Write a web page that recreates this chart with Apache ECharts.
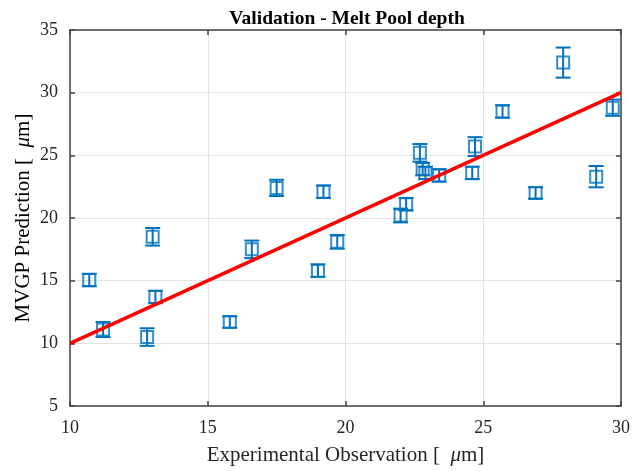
<!DOCTYPE html>
<html>
<head>
<meta charset="utf-8">
<script src="https://cdn.jsdelivr.net/npm/echarts@6/dist/echarts.min.js"></script>
<style>
  html, body { margin: 0; padding: 0; background: #fff; }
  #chart { width: 633px; height: 471px; }
</style>
</head>
<body>
<div id="chart"></div>
<script>
// Measured melt pool depth vs. MVGP predicted depth (µm)
const experimental = [10.7, 11.2, 12.8, 13.0, 13.1, 15.8, 16.6, 17.5, 19.0, 19.2, 19.7, 22.0, 22.2, 22.7, 22.8, 22.9, 23.4, 24.6, 24.7, 25.7, 26.9, 27.9, 29.1, 29.7];
const predicted    = [15.05, 11.1, 10.5, 18.5, 13.7, 11.7, 17.5, 22.4, 15.8, 22.1, 18.1, 20.2, 21.1, 25.2, 23.9, 23.6, 23.4, 23.6, 25.7, 28.5, 22.0, 32.4, 23.3, 28.8];
const predError    = [0.5, 0.6, 0.7, 0.7, 0.5, 0.45, 0.7, 0.65, 0.5, 0.5, 0.55, 0.55, 0.5, 0.7, 0.5, 0.5, 0.5, 0.5, 0.75, 0.5, 0.45, 1.2, 0.85, 0.65];
// Ideal agreement line y = x
const idealLine = [[10, 10], [30, 30]];

const xTicks = [10, 15, 20, 25, 30];
const yTicks = [5, 10, 15, 20, 25, 30, 35];

const blue = '#0072BD';
const serif = '"Liberation Serif", "Times New Roman", serif';
const axisCol = '#444444';
const textCol = '#262626';

const points = experimental.map((x, i) => [x, predicted[i]]);
const bars = experimental.map((x, i) => [x, predicted[i] - predError[i], predicted[i] + predError[i]]);

const chart = echarts.init(document.getElementById('chart'), null, { renderer: 'canvas' });

const baseAxis = {
  axisLine: { show: true, onZero: false, lineStyle: { color: axisCol, width: 1.5 } },
  axisTick: { show: true, inside: true, length: 5, lineStyle: { color: axisCol, width: 1.5 } },
  splitLine: { show: false }
};

const titleRich = {
  n: { fontFamily: serif, fontSize: 21, color: textCol },
  mu: { fontFamily: serif, fontSize: 21, fontStyle: 'italic', color: textCol }
};

chart.setOption({
  animation: false,
  backgroundColor: '#ffffff',
  title: {
    text: 'Validation - Melt Pool depth',
    left: 342, top: 4, textAlign: 'center',
    textStyle: { fontFamily: serif, fontWeight: 'bold', fontSize: 19.5, color: '#000' }
  },
  grid: { left: 70, right: 11, top: 30, bottom: 65, containLabel: false },
  // rotated y-axis title
  graphic: [{
    type: 'text',
    x: 23, y: 218,
    rotation: Math.PI / 2,
    style: {
      text: '{n|MVGP Prediction [  }{mu|μ}{n|m]}',
      rich: titleRich,
      align: 'center',
      verticalAlign: 'middle'
    }
  }],
  xAxis: [
    Object.assign({}, baseAxis, {
      type: 'value', min: 10, max: 30, interval: 5, position: 'bottom',
      name: '{n|Experimental Observation [  }{mu|μ}{n|m]}',
      nameLocation: 'middle', nameGap: 39,
      nameTextStyle: { rich: titleRich },
      axisLabel: { fontFamily: serif, fontSize: 18, color: textCol, margin: 13,
        formatter: v => xTicks.includes(v) ? String(v) : '' },
      splitLine: { show: true, lineStyle: { color: '#e3e3e3', width: 1 } }
    }),
    Object.assign({}, baseAxis, {
      type: 'value', min: 10, max: 30, interval: 5, position: 'top',
      axisLabel: { show: false }
    })
  ],
  yAxis: [
    Object.assign({}, baseAxis, {
      type: 'value', min: 5, max: 35, interval: 5, position: 'left',
      axisLabel: { fontFamily: serif, fontSize: 18, color: textCol, margin: 12,
        formatter: v => yTicks.includes(v) ? String(v) : '' },
      splitLine: { show: true, lineStyle: { color: '#e3e3e3', width: 1 } }
    }),
    Object.assign({}, baseAxis, {
      type: 'value', min: 5, max: 35, interval: 5, position: 'right',
      axisLabel: { show: false }
    })
  ],
  series: [
    {
      // vertical error bars with caps
      type: 'custom',
      xAxisIndex: 0, yAxisIndex: 0,
      data: bars,
      z: 3,
      renderItem: function (params, api) {
        const x = api.value(0);
        const lo = api.coord([x, api.value(1)]);
        const hi = api.coord([x, api.value(2)]);
        const half = 7.5;
        const style = { stroke: blue, lineWidth: 2, fill: null };
        return {
          type: 'group',
          children: [
            { type: 'line', shape: { x1: lo[0], y1: lo[1], x2: hi[0], y2: hi[1] }, style: style },
            { type: 'line', shape: { x1: lo[0] - half, y1: lo[1], x2: lo[0] + half, y2: lo[1] }, style: style },
            { type: 'line', shape: { x1: hi[0] - half, y1: hi[1], x2: hi[0] + half, y2: hi[1] }, style: style }
          ]
        };
      }
    },
    {
      type: 'scatter',
      xAxisIndex: 0, yAxisIndex: 0,
      data: points,
      symbol: 'rect',
      symbolSize: 12,
      z: 4,
      itemStyle: { color: 'rgba(0,0,0,0)', borderColor: blue, borderWidth: 2 }
    },
    {
      type: 'line',
      xAxisIndex: 0, yAxisIndex: 0,
      data: idealLine,
      symbol: 'none',
      z: 5,
      lineStyle: { color: '#ff0000', width: 3.5 }
    }
  ]
});
</script>
</body>
</html>
